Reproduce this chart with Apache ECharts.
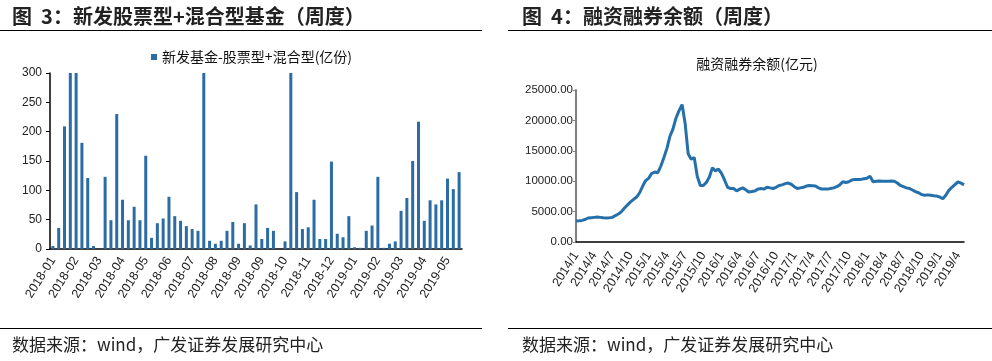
<!DOCTYPE html>
<html><head><meta charset="utf-8">
<script src="https://cdn.jsdelivr.net/npm/echarts@6/dist/echarts.min.js"></script>
<style>html,body{margin:0;padding:0;background:#fff}#c{width:992px;height:361px}</style>
</head><body><div id="c"></div>
<script>
// ---- Left chart data: weekly new equity + hybrid fund issuance (亿份) ----
const barCategories = ["2018-01-20","2018-01-27","2018-02-03","2018-02-10","2018-02-17","2018-02-24","2018-03-03","2018-03-10","2018-03-17","2018-03-24","2018-03-31","2018-04-07","2018-04-14","2018-04-21","2018-04-28","2018-05-05","2018-05-12","2018-05-19","2018-05-26","2018-06-02","2018-06-09","2018-06-16","2018-06-23","2018-06-30","2018-07-07","2018-07-14","2018-07-21","2018-07-28","2018-08-04","2018-08-11","2018-08-18","2018-08-25","2018-09-01","2018-09-08","2018-09-15","2018-09-22","2018-09-29","2018-10-06","2018-10-13","2018-10-20","2018-10-27","2018-11-03","2018-11-10","2018-11-17","2018-11-24","2018-12-01","2018-12-08","2018-12-15","2018-12-22","2018-12-29","2019-01-05","2019-01-12","2019-01-19","2019-01-26","2019-02-02","2019-02-09","2019-02-16","2019-02-23","2019-03-02","2019-03-09","2019-03-16","2019-03-23","2019-03-30","2019-04-06","2019-04-13","2019-04-20","2019-04-27","2019-05-04","2019-05-11","2019-05-18","2019-05-25"];
const barValues = [5,36,209,300,300,181,121,5,0,123,49,230,84,49,72,49,159,19,44,52,89,56,48,39,34,31,300,14,9,14,31,46,9,44,6,76,17,36,31,0,13,300,97,34,37,84,17,17,149,26,20,56,3,2,31,40,123,2,9,13,65,87,150,217,48,83,76,83,120,102,131];
const barSeriesName = "新发基金-股票型+混合型(亿份)";
const barYTicks = {min:0, max:300, interval:50};

// ---- Right chart data: margin financing balance (亿元), half-monthly ----
const lineCategories = ["2014/1","2014/1/16","2014/2","2014/2/16","2014/3","2014/3/16","2014/4","2014/4/16","2014/5","2014/5/16","2014/6","2014/6/16","2014/7","2014/7/16","2014/8","2014/8/16","2014/9","2014/9/16","2014/10","2014/10/16","2014/11","2014/11/16","2014/12","2014/12/16",
"2015/1","2015/1/16","2015/2","2015/2/16","2015/3","2015/3/16","2015/4","2015/4/16","2015/5","2015/5/16","2015/6","2015/6/16","2015/7","2015/7/16","2015/8","2015/8/16","2015/9","2015/9/16","2015/10","2015/10/16","2015/11","2015/11/16","2015/12","2015/12/16",
"2016/1","2016/1/16","2016/2","2016/2/16","2016/3","2016/3/16","2016/4","2016/4/16","2016/5","2016/5/16","2016/6","2016/6/16","2016/7","2016/7/16","2016/8","2016/8/16","2016/9","2016/9/16","2016/10","2016/10/16","2016/11","2016/11/16","2016/12","2016/12/16",
"2017/1","2017/1/16","2017/2","2017/2/16","2017/3","2017/3/16","2017/4","2017/4/16","2017/5","2017/5/16","2017/6","2017/6/16","2017/7","2017/7/16","2017/8","2017/8/16","2017/9","2017/9/16","2017/10","2017/10/16","2017/11","2017/11/16","2017/12","2017/12/16",
"2018/1","2018/1/16","2018/2","2018/2/16","2018/3","2018/3/16","2018/4","2018/4/16","2018/5","2018/5/16","2018/6","2018/6/16","2018/7","2018/7/16","2018/8","2018/8/16","2018/9","2018/9/16","2018/10","2018/10/16","2018/11","2018/11/16","2018/12","2018/12/16",
"2019/1","2019/1/16","2019/2","2019/2/16","2019/3","2019/3/16","2019/4","2019/4/16","2019/5"];
const lineValues = [3460,3500,3550,3700,3950,4000,4050,4100,4050,4000,
3960,3980,4050,4350,4600,5000,5600,6100,6600,7000,
7400,8100,9200,10100,10500,11300,11500,11400,12500,13900,
15400,17400,18600,20400,21600,22600,19500,14500,13600,13900,
10800,9300,9300,9800,10700,12200,11700,12000,11300,10200,
9000,8800,8800,8400,8700,8900,8600,8200,8300,8400,
8700,8800,8700,9000,8900,8800,9000,9300,9400,9600,
9700,9500,9100,8800,8900,9000,9200,9300,9250,9200,
8900,8700,8700,8700,8800,8900,9100,9400,9900,9800,
9900,10200,10300,10300,10300,10400,10500,10800,9900,10000,
10050,10000,10000,10000,10050,10000,9700,9300,9100,8900,
8800,8550,8300,8100,7800,7700,7750,7700,7600,7550,
7400,7100,7700,8500,9000,9450,9900,9700,9400];
const lineSeriesName = "融资融券余额(亿元)";
const lineYTicks = {min:0, max:25000, interval:5000};

// ---- Texts ----
const leftTitle = "图  3：新发股票型+混合型基金（周度）";
const rightTitle = "图  4：融资融券余额（周度）";
const sourceText = "数据来源：wind，广发证券发展研究中心";

const CJK = '"Noto Sans CJK SC", sans-serif';
const NUM = '"Liberation Sans", Arial, sans-serif';
const barColor = '#2b6ca5';
const lineColor = '#2570ab';

const chart = echarts.init(document.getElementById('c'), null, {renderer:'canvas'});
const option = {
  animation:false,
  backgroundColor:'#fff',
  title:[{
    text: lineSeriesName, left: 752, top: 52, textAlign:'center',
    textStyle:{fontFamily:CJK, fontSize:14, fontWeight:'normal', color:'#111'}
  }],
  legend:{
    data:[barSeriesName], left:146, top:45, itemWidth:6, itemHeight:6, itemGap:4,
    icon:'rect',
    textStyle:{fontFamily:CJK, fontSize:14, color:'#111', padding:[0,0,0,0]}
  },
  grid:[
    {left:50, right:530, top:73, bottom:112},
    {left:576, right:28, top:90, bottom:119}
  ],
  xAxis:[
    {gridIndex:0, type:'category', data:barCategories, boundaryGap:true,
     axisLine:{lineStyle:{color:'#000', width:1.5}},
     axisTick:{show:false},
     axisLabel:{interval:3, rotate:58, margin:9, fontFamily:NUM, fontSize:12.5, color:'#222',
       formatter:v=>v.slice(0,7)}},
    {gridIndex:1, type:'category', data:lineCategories, boundaryGap:false,
     axisLine:{lineStyle:{color:'#000', width:1.5}},
     axisTick:{show:false},
     axisLabel:{interval:5, rotate:58, margin:11, fontFamily:NUM, fontSize:12.5, color:'#222'}}
  ],
  yAxis:[
    {gridIndex:0, type:'value', min:barYTicks.min, max:barYTicks.max, interval:barYTicks.interval,
     axisLine:{show:true, lineStyle:{color:'#000', width:1.5}},
     axisTick:{show:true, length:4, lineStyle:{color:'#000'}},
     splitLine:{show:false},
     axisLabel:{fontFamily:NUM, fontSize:12, color:'#222', margin:8}},
    {gridIndex:1, type:'value', min:lineYTicks.min, max:lineYTicks.max, interval:lineYTicks.interval,
     axisLine:{show:true, lineStyle:{color:'#808080', width:2}},
     axisTick:{show:true, length:3, lineStyle:{color:'#808080'}},
     splitLine:{show:false},
     axisLabel:{fontFamily:NUM, fontSize:11.5, color:'#222', margin:3, formatter:v=>v.toFixed(2)}}
  ],
  series:[
    {name:barSeriesName, type:'bar', xAxisIndex:0, yAxisIndex:0, data:barValues,
     barWidth:3, itemStyle:{color:barColor}},
    {name:lineSeriesName, type:'line', xAxisIndex:1, yAxisIndex:1, data:lineValues,
     showSymbol:false, symbol:'none', lineStyle:{color:lineColor, width:3}, itemStyle:{color:lineColor}}
  ],
  graphic:[
    {type:'text', x:12, y:16, style:{text:leftTitle, font:'bold 20px '+CJK, fill:'#222', verticalAlign:'middle'}},
    {type:'text', x:522, y:16, style:{text:rightTitle, font:'bold 20px '+CJK, fill:'#222', verticalAlign:'middle'}},
    {type:'line', shape:{x1:0, y1:30.5, x2:482, y2:30.5}, style:{stroke:'#000', lineWidth:1}},
    {type:'line', shape:{x1:508, y1:30.5, x2:992, y2:30.5}, style:{stroke:'#000', lineWidth:1}},
    {type:'line', shape:{x1:0, y1:328.5, x2:482, y2:328.5}, style:{stroke:'#000', lineWidth:1}},
    {type:'line', shape:{x1:508, y1:328.5, x2:992, y2:328.5}, style:{stroke:'#000', lineWidth:1}},
    {type:'text', x:12, y:345, style:{text:sourceText, font:'17px '+CJK, fill:'#222', verticalAlign:'middle'}},
    {type:'text', x:522, y:345, style:{text:sourceText, font:'17px '+CJK, fill:'#222', verticalAlign:'middle'}}
  ]
};
chart.setOption(option);
</script>
</body></html>
